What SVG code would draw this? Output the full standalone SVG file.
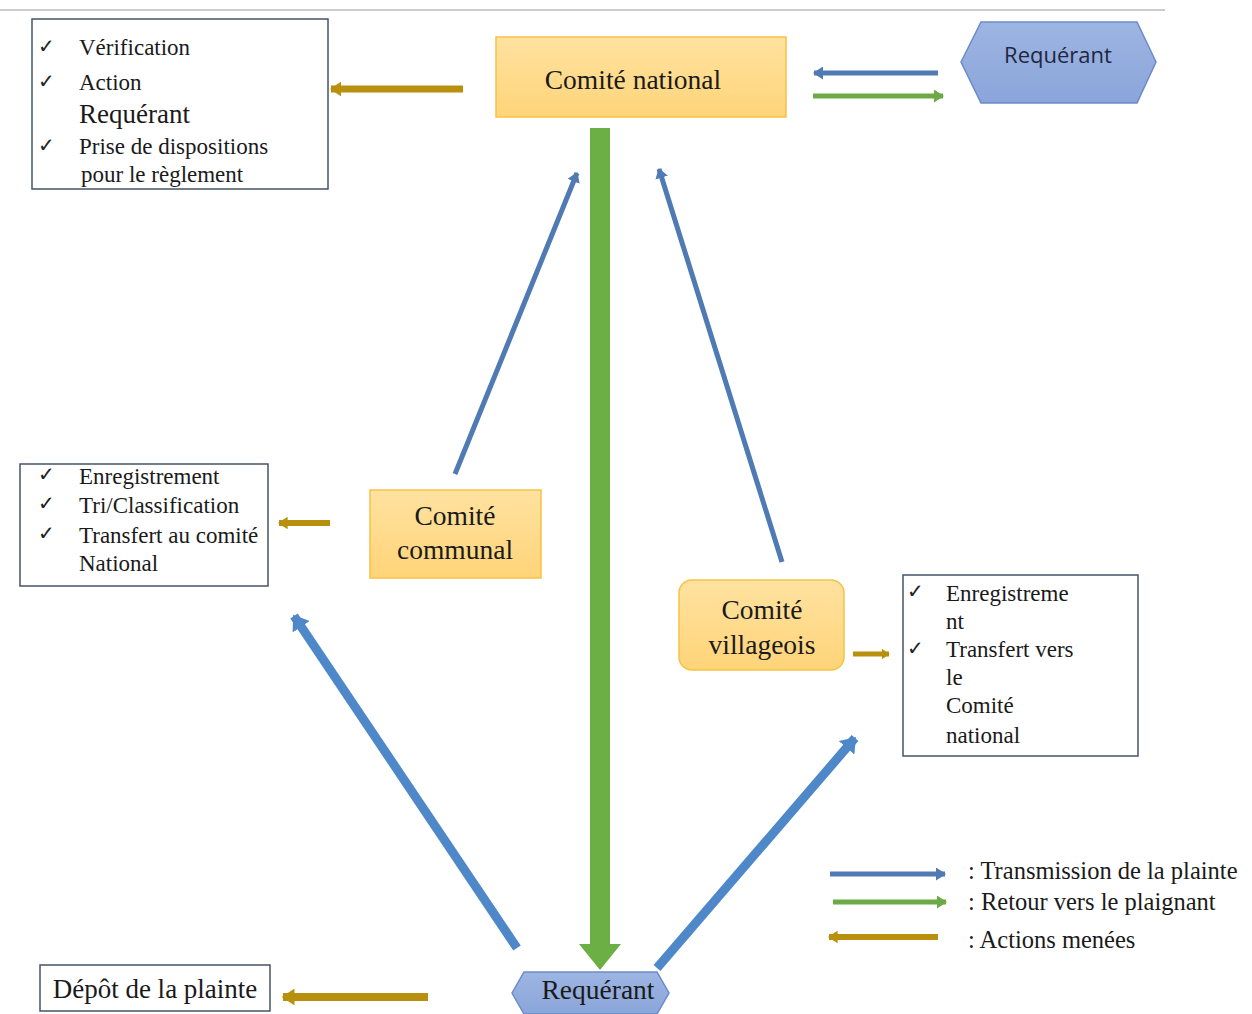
<svg xmlns="http://www.w3.org/2000/svg" width="1252" height="1014" viewBox="0 0 1252 1014">
<defs>
<linearGradient id="og" x1="0" y1="0" x2="0" y2="1"><stop offset="0" stop-color="#FFE2A0"/><stop offset="1" stop-color="#FFD479"/></linearGradient>
<linearGradient id="bg" x1="0" y1="0" x2="0" y2="1"><stop offset="0" stop-color="#9DB5E2"/><stop offset="1" stop-color="#8AA5DA"/></linearGradient>
<marker id="mb" viewBox="0 0 10 10" preserveAspectRatio="none" refX="9" refY="5" markerWidth="2" markerHeight="2.6" orient="auto" markerUnits="strokeWidth"><path d="M0,0 L10,5 L0,10 z" fill="#4F7AB3"/></marker>
<marker id="mg" viewBox="0 0 10 10" preserveAspectRatio="none" refX="9" refY="5" markerWidth="2" markerHeight="2.6" orient="auto" markerUnits="strokeWidth"><path d="M0,0 L10,5 L0,10 z" fill="#6BAA45"/></marker>
<marker id="mo" viewBox="0 0 10 10" preserveAspectRatio="none" refX="9" refY="5" markerWidth="1.6" markerHeight="2.1" orient="auto" markerUnits="strokeWidth"><path d="M0,0 L10,5 L0,10 z" fill="#B8900E"/></marker>
<marker id="mB" viewBox="0 0 10 10" preserveAspectRatio="none" refX="9" refY="5" markerWidth="1.6" markerHeight="2.3" orient="auto" markerUnits="strokeWidth"><path d="M0,0 L10,5 L0,10 z" fill="#4E88C8"/></marker>
<style>
.box{fill:#fff;stroke:#44546A;stroke-width:1.5}
.org{fill:url(#og);stroke:#F6C244;stroke-width:1.5}
.hex{fill:url(#bg);stroke:#6C8ACB;stroke-width:1.5}
.t{font-family:"Liberation Serif","Times New Roman",serif;font-size:23px;fill:#1a1a1a}
.tn{font-family:"Liberation Serif","Times New Roman",serif;font-size:27.5px;fill:#1a1a1a;text-anchor:middle}
.lg{font-family:"Liberation Serif","Times New Roman",serif;font-size:24.5px;fill:#1a1a1a}
.ck{font-family:"DejaVu Sans",sans-serif;font-size:20px;fill:#222}
.bl{stroke:#4F7AB3;fill:none}
.gr{stroke:#6BAA45;fill:none}
.go{stroke:#B8900E;fill:none}
.bb{stroke:#4E88C8;fill:none}
</style>
</defs>
<rect width="1252" height="1014" fill="#fff"/>
<line x1="0" y1="10" x2="1165" y2="10" stroke="#CCCCCC" stroke-width="2"/>

<g id="actions-national">
<rect class="box" x="32" y="19" width="296" height="170"/>
<text class="ck" x="38" y="53">✓</text><text class="t" x="79" y="55">Vérification</text>
<text class="ck" x="38" y="88">✓</text><text class="t" x="79" y="90">Action</text>
<text class="t" x="79" y="123" style="font-size:27px">Requérant</text>
<text class="ck" x="38" y="152">✓</text><text class="t" x="79" y="154">Prise de dispositions</text>
<text class="t" x="81" y="182">pour le règlement</text>
</g>

<g id="comite-national">
<rect class="org" x="496" y="37" width="290" height="80"/>
<text class="tn" x="633" y="89">Comité national</text>
</g>

<g id="requerant-top">
<polygon class="hex" points="961,62 981,22 1137,22 1156,62 1137,103 981,103"/>
<text x="1058" y="63" style="font-family:'Open Sans','DejaVu Sans',sans-serif;font-size:22px;fill:#1F2740;text-anchor:middle">Requérant</text>
</g>

<g id="comite-communal">
<rect class="org" x="370" y="490" width="171" height="88"/>
<text class="tn" x="455" y="525">Comité</text>
<text class="tn" x="455" y="559">communal</text>
</g>

<g id="actions-communal">
<rect class="box" x="20" y="464" width="248" height="122"/>
<text class="ck" x="38" y="481">✓</text><text class="t" x="79" y="484">Enregistrement</text>
<text class="ck" x="38" y="510">✓</text><text class="t" x="79" y="513">Tri/Classification</text>
<text class="ck" x="38" y="540">✓</text><text class="t" x="79" y="543">Transfert au comité</text>
<text class="t" x="79" y="571">National</text>
</g>

<g id="comite-villageois">
<rect class="org" x="679" y="580" width="165" height="90" rx="13"/>
<text class="tn" x="762" y="619">Comité</text>
<text class="tn" x="762" y="654">villageois</text>
</g>

<g id="actions-villageois">
<rect class="box" x="903" y="575" width="235" height="181"/>
<text class="ck" x="907" y="598">✓</text><text class="t" x="946" y="601">Enregistreme</text>
<text class="t" x="946" y="629">nt</text>
<text class="ck" x="907" y="655">✓</text><text class="t" x="946" y="657">Transfert vers</text>
<text class="t" x="946" y="685">le</text>
<text class="t" x="946" y="713">Comité</text>
<text class="t" x="946" y="743">national</text>
</g>

<g id="depot">
<rect class="box" x="40" y="965" width="230" height="46"/>
<text class="t" x="155" y="998" style="font-size:27px;text-anchor:middle">Dépôt de la plainte</text>
</g>

<g id="requerant-bottom">
<polygon class="hex" points="512,993 524,972 657,972 669,993 657,1014 524,1014"/>
<text class="tn" x="598" y="999">Requérant</text>
</g>

<g id="connectors">
<line class="go" x1="463" y1="89" x2="331" y2="89" stroke-width="7" marker-end="url(#mo)"/>
<line class="bl" x1="938" y1="73" x2="814" y2="73" stroke-width="5" marker-end="url(#mb)"/>
<line class="gr" x1="813" y1="96" x2="943" y2="96" stroke-width="5" marker-end="url(#mg)"/>
<polygon points="590,128 610,128 610,944 621,944 600,970 579,944 590,944" fill="#6BAF45"/>
<line class="bl" x1="455" y1="474" x2="577" y2="173" stroke-width="5" marker-end="url(#mb)"/>
<line class="bl" x1="782" y1="562" x2="659" y2="169" stroke-width="5" marker-end="url(#mb)"/>
<line class="go" x1="330" y1="523" x2="279" y2="523" stroke-width="6" marker-end="url(#mo)"/>
<line class="go" x1="853" y1="654" x2="889" y2="654" stroke-width="5" marker-end="url(#mo)"/>
<line class="bb" x1="517" y1="948" x2="294" y2="616" stroke-width="9" marker-end="url(#mB)"/>
<line class="bb" x1="657" y1="968" x2="855" y2="738" stroke-width="9" marker-end="url(#mB)"/>
<line class="go" x1="428" y1="997" x2="283" y2="997" stroke-width="8" marker-end="url(#mo)"/>
</g>

<g id="legend">
<line class="bl" x1="830" y1="874" x2="945" y2="874" stroke-width="5" marker-end="url(#mb)"/>
<line class="gr" x1="833" y1="902" x2="946" y2="902" stroke-width="5" marker-end="url(#mg)"/>
<line class="go" x1="938" y1="937" x2="829" y2="937" stroke-width="6" marker-end="url(#mo)"/>
<text class="lg" x="968" y="879">: Transmission de la plainte</text>
<text class="lg" x="968" y="910">: Retour vers le plaignant</text>
<text class="lg" x="968" y="948">: Actions menées</text>
</g>
</svg>
